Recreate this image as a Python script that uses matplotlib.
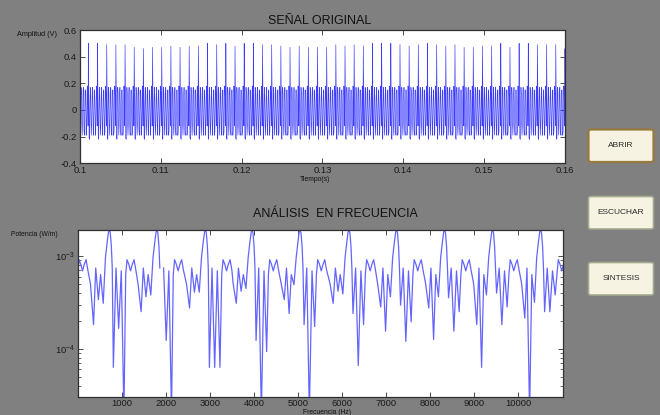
import matplotlib
matplotlib.use("Agg")
import matplotlib.pyplot as plt
import numpy as np
from matplotlib.patches import FancyBboxPatch

plt.rcParams['font.family'] = ['Liberation Sans', 'DejaVu Sans']

# ---- time signal: one cycle shape (V), peak replaced per cycle ----
fs = 22050
first_peak_t = 0.10104
cycle_shape = [0.0, 0.08, -0.21, -0.22, 0.02, 0.17, 0.12, -0.10, -0.19, -0.10,
               0.10, 0.17, 0.04, -0.15, -0.19, -0.02, 0.15, 0.15, -0.04, -0.19,
               -0.16, 0.06, 0.18, 0.10, -0.12]
peak_heights = [0.50, 0.50, 0.50, 0.49, 0.49, 0.49, 0.47, 0.46, 0.47, 0.47, 0.48,
                0.47, 0.48, 0.48, 0.50, 0.49, 0.50, 0.48, 0.50, 0.50, 0.49, 0.49,
                0.48, 0.47, 0.48, 0.47, 0.47, 0.47, 0.49, 0.48, 0.49, 0.48, 0.50,
                0.50, 0.50, 0.49, 0.48, 0.49, 0.50, 0.49, 0.48, 0.49, 0.47, 0.47,
                0.48, 0.48, 0.50, 0.47, 0.50, 0.50, 0.49, 0.49, 0.49, 0.46]

t_ticks = [0.1, 0.11, 0.12, 0.13, 0.14, 0.15, 0.16]
t_labels = ['0.1', '0.11', '0.12', '0.13', '0.14', '0.15', '0.16']
amp_ticks = [-0.4, -0.2, 0.0, 0.2, 0.4, 0.6]
amp_labels = ['-0.4', '-0.2', '0', '0.2', '0.4', '0.6']

# ---- spectrum: log10 power, built around the comb peaks (kHz) ----
peak_khz = [-0.37, 0.72, 1.80, 2.90, 3.96, 5.05, 6.16, 7.24, 8.33, 9.42, 10.51, 11.60]
post_off = [0.0, 0.02, 0.045, 0.065, 0.09, 0.15, 0.21, 0.27, 0.33, 0.37, 0.40, 0.44,
            0.48, 0.52, 0.56, 0.60]
post_val = [-2.72, -2.75, -2.90, -3.13, None, -3.13, None, -3.16, None, -3.20, -3.04,
            -3.09, -3.16, -3.09, -3.04, -3.15]
pre_off = [-0.43, -0.36, -0.31, -0.25, -0.20, -0.14, -0.09, -0.05, -0.02]
pre_val = [-3.30, None, -3.13, None, -3.20, None, -3.02, -2.85, -2.74]
# three notches after each peak, three before the next one
dips_after = [[-4.6, -4.6, -4.6], [-4.20, -3.78, -4.70], [np.nan, -3.91, -4.70],
              [-4.20, -4.20, -4.20], [-3.91, -4.70, -4.03], [-3.74, -4.70, -3.76],
              [-3.62, -4.18, -3.74], [-3.53, -3.92, -3.71], [-3.45, -3.81, -3.60],
              [-3.40, -3.74, -3.55], [-3.60, -3.60, -3.42]]
dips_before = [[-3.74, -3.47, -3.51], [-3.60, -3.44, -3.42], [-3.56, -3.39, -3.39],
               [-3.51, -3.38, -3.35], [-3.47, -3.62, -3.31], [-3.51, -3.38, -3.41],
               [-3.55, -3.81, -3.44], [-3.56, -3.90, -3.44], [-3.74, -4.20, -3.42],
               [-3.67, -4.70, -3.50], [-3.50, -3.50, -3.50]]
freq_ticks = [1000, 2000, 3000, 4000, 5000, 6000, 7000, 8000, 9000, 10000]


def fill(vals, dips):
    it = iter(dips)
    return [next(it) if v is None else v for v in vals]


def build_signal():
    y = []
    for h in peak_heights:
        cyc = list(cycle_shape)
        cyc[0] = h
        y.extend(cyc)
    y = np.array(y)
    n = len(cycle_shape)
    t = first_peak_t + (np.arange(len(y)) - n) / fs
    return t, y


def build_spectrum():
    f, p = [], []
    for k in range(len(peak_khz) - 1):
        f += [peak_khz[k] + o for o in post_off]
        p += fill(post_val, dips_after[k])
        f += [peak_khz[k + 1] + o for o in pre_off]
        p += fill(pre_val, dips_before[k])
    return np.array(f) * 1000, 10 ** np.array(p, dtype=float)


def style_axes(ax):
    ax.set_facecolor('white')
    for s in ax.spines.values():
        s.set_color('#303030')
        s.set_linewidth(0.9)
    ax.tick_params(which='both', direction='in', top=True, right=True,
                   labelsize=6.8, colors='#303030', labelcolor='#1a1a1a', pad=2)
    ax.tick_params(which='major', length=3.5, width=0.6)
    ax.tick_params(which='minor', length=2, width=0.5)


fig = plt.figure(figsize=(6.6, 4.15), dpi=100)
fig.patch.set_facecolor('#808080')

# original signal
ax1 = fig.add_axes([0.1212, 0.6065, 0.7348, 0.3212])
t, y = build_signal()
ax1.plot(t, y, color='#3c3cff', lw=0.45)
ax1.set_xlim(0.1, 0.16)
ax1.set_ylim(-0.4, 0.6)
ax1.set_xticks(t_ticks)
ax1.set_xticklabels(t_labels)
ax1.set_yticks(amp_ticks)
ax1.set_yticklabels(amp_labels)
style_axes(ax1)

# frequency analysis
ax2 = fig.add_axes([0.1177, 0.0441, 0.7358, 0.4017])
f, p = build_spectrum()
ax2.semilogy(f, p, color='#6464ff', lw=0.9)
ax2.set_xlim(0, 11025)
ax2.set_ylim(10 ** -4.516, 10 ** -2.72)
ax2.set_xticks(freq_ticks)
style_axes(ax2)

fig.text(320 / 660, 1 - 20.5 / 415, 'SEÑAL ORIGINAL', ha='center', va='center',
         fontsize=9, color='#111111')
fig.text(335 / 660, 1 - 214 / 415, 'ANÁLISIS  EN FRECUENCIA', ha='center',
         va='center', fontsize=9, color='#111111')
fig.text(37 / 660, 1 - 34 / 415, 'Amplitud (V)', ha='center', va='center',
         fontsize=5.2, color='#111111')
fig.text(34 / 660, 1 - 234 / 415, 'Potencia (W/m)', ha='center', va='center',
         fontsize=4.9, color='#111111')
fig.text(315 / 660, 1 - 179.5 / 415, 'Tiempo(s)', ha='center', va='center',
         fontsize=4.9, color='#111111')
fig.text(327 / 660, 1 - 412 / 415, 'Frecuencia (Hz)', ha='center', va='center',
         fontsize=4.9, color='#111111')

# push buttons on the right
buttons = [('ABRIR', 129.5, '#9a7a3a', 1.6),
           ('ESCUCHAR', 196.5, '#a4aa90', 1.2),
           ('SINTESIS', 262.5, '#a4aa90', 1.2)]
for label, top, edge, lw in buttons:
    x0, w, h = 588.5 / 660, 65 / 660, 32.5 / 415
    y0 = 1 - (top + 32.5) / 415
    fig.patches.append(FancyBboxPatch((x0, y0), w, h, boxstyle='round,pad=0,rounding_size=0.004',
                                      transform=fig.transFigure, facecolor='#f6f3e2',
                                      edgecolor=edge, lw=lw))
    fig.text(x0 + w / 2, y0 + h / 2, label, ha='center', va='center',
             fontsize=6, color='#2a2a2a')

fig.savefig('out.png', dpi=100, facecolor=fig.get_facecolor())
